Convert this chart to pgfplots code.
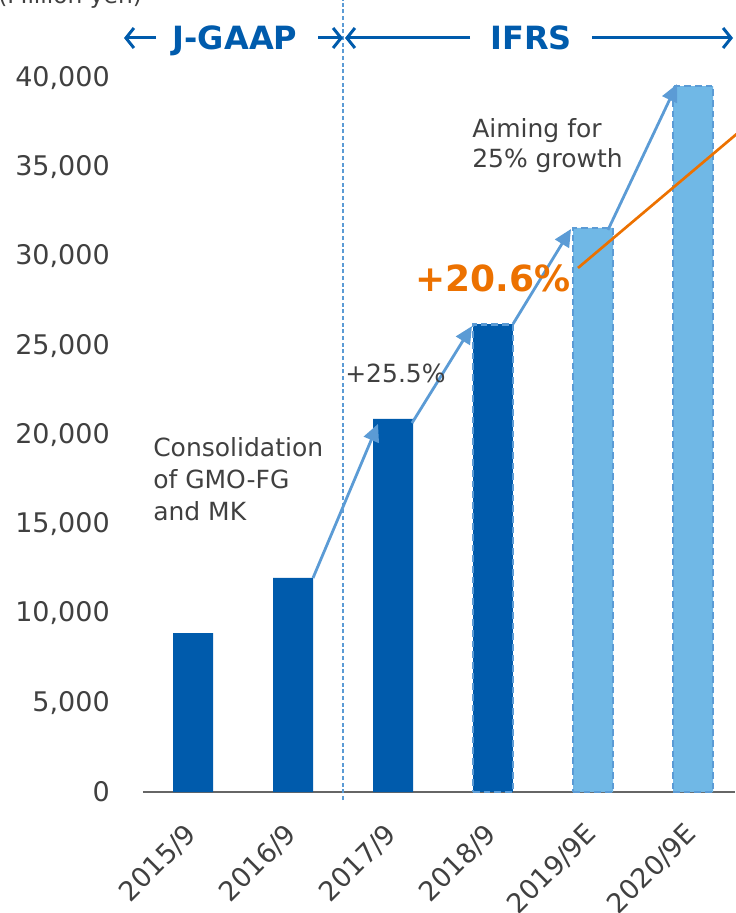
\documentclass[border=0pt]{standalone}
\usepackage{pgfplots}
\pgfplotsset{compat=1.18}
\usepackage{fontspec}
\setmainfont{DejaVu Sans}
\usetikzlibrary{arrows.meta}
\definecolor{dblue}{HTML}{005BAC}
\definecolor{lblue}{HTML}{70B8E6}
\definecolor{mblue}{HTML}{5B9BD5}
\definecolor{orng}{HTML}{EC7100}
\definecolor{tgray}{HTML}{404040}
\definecolor{agray}{HTML}{666666}
\begin{document}
\begin{tikzpicture}
\useasboundingbox (0pt,0pt) rectangle (551.25pt,-684.75pt);
\begin{axis}[
  at={(107.25pt,-594pt)}, anchor=south west,
  scale only axis, width=444pt, height=594pt,
  xmin=-0.5, xmax=5.42, ymin=0, ymax=44370,
  clip=false,
  axis lines*=left,
  y axis line style={draw=none},
  x axis line style={draw=agray, line width=1.5pt},
  major tick length=0pt,
  xtick={0,1,2,3,4,5},
  xticklabels={2015/9,2016/9,2017/9,2018/9,2019/9E,2020/9E},
  ytick={0,5000,10000,15000,20000,25000,30000,35000,40000},
  scaled y ticks=false,
  /pgf/number format/.cd, 1000 sep={,}, assume math mode=true,
  /pgfplots/.cd,
  ticklabel style={font=\fontsize{20.25}{24}\selectfont, text=tgray, inner sep=0pt},
  yticklabel style={anchor=east, xshift=-24.75pt},
  xticklabel style={xshift=-7pt, yshift=-22pt, rotate=45, anchor=north east},
]
\addplot[ybar, bar width=0.4, bar shift=0pt, fill=dblue, draw=none] coordinates {(0,8900) (1,12000) (2,20900)};
\addplot[ybar, bar width=0.4, bar shift=0pt, fill=dblue, draw=mblue, line width=1.8pt, dash pattern=on 5pt off 3pt] coordinates {(3,26200)};
\addplot[ybar, bar width=0.4, bar shift=0pt, fill=lblue, draw=mblue, line width=1.8pt, dash pattern=on 5pt off 3pt] coordinates {(4,31600) (5,39550)};
\draw[mblue, line width=0.9pt, dash pattern=on 3pt off 2pt] (axis cs:1.5,-450) -- (axis cs:1.5,44370);
\draw[mblue, line width=2.1pt, -{Triangle[length=13pt,width=12pt]}] (axis cs:1.2,11990) -- (axis cs:1.85,20620);
\draw[mblue, line width=2.1pt, -{Triangle[length=13pt,width=12pt]}] (axis cs:2.19,20670) -- (axis cs:2.79,26100);
\draw[mblue, line width=2.1pt, -{Triangle[length=13pt,width=12pt]}] (axis cs:3.2,26220) -- (axis cs:3.78,31540);
\draw[mblue, line width=2.1pt, -{Triangle[length=13pt,width=12pt]}] (axis cs:4.15,31490) -- (axis cs:4.84,39660);
\draw[orng, line width=2pt] (axis cs:3.85,29360) -- (axis cs:5.55,37400);
\end{axis}
\begin{scope}[x=0.75pt,y=-0.75pt]
% header
\node[anchor=base west, font=\fontsize{17.5}{21}\selectfont, text=tgray, inner sep=0] at (-2,4) {(Million yen)};
\begin{scope}[dblue, line width=2.25pt, arrows={-{Straight Barb[length=6pt,width=15pt]}}]
\draw (156,38) -- (124,38);
\draw (318,38) -- (343,38);
\draw (470,38) -- (345,38);
\draw (592,38) -- (733,38);
\end{scope}
\node[anchor=base, font=\bfseries\fontsize{24}{28}\selectfont, text=dblue, inner sep=0] at (235,50) {J-GAAP};
\node[anchor=base, font=\bfseries\fontsize{24}{28}\selectfont, text=dblue, inner sep=0] at (531,50) {IFRS};
% annotations
\begin{scope}[every node/.style={anchor=base west, font=\fontsize{18.75}{24}\selectfont, text=tgray, inner sep=0}]
\node at (153,456) {Consolidation};
\node at (153,488) {of GMO-FG};
\node at (153,520) {and MK};
\node at (345,382) {+25.5\%};
\node at (472,138) {Aiming for};
\node at (472,167) {25\% growth};
\end{scope}
\node[anchor=base west, font=\bfseries\fontsize{27}{30}\selectfont, text=orng, inner sep=0] at (415,291) {+20.6\%};
\end{scope}
\end{tikzpicture}
\end{document}
